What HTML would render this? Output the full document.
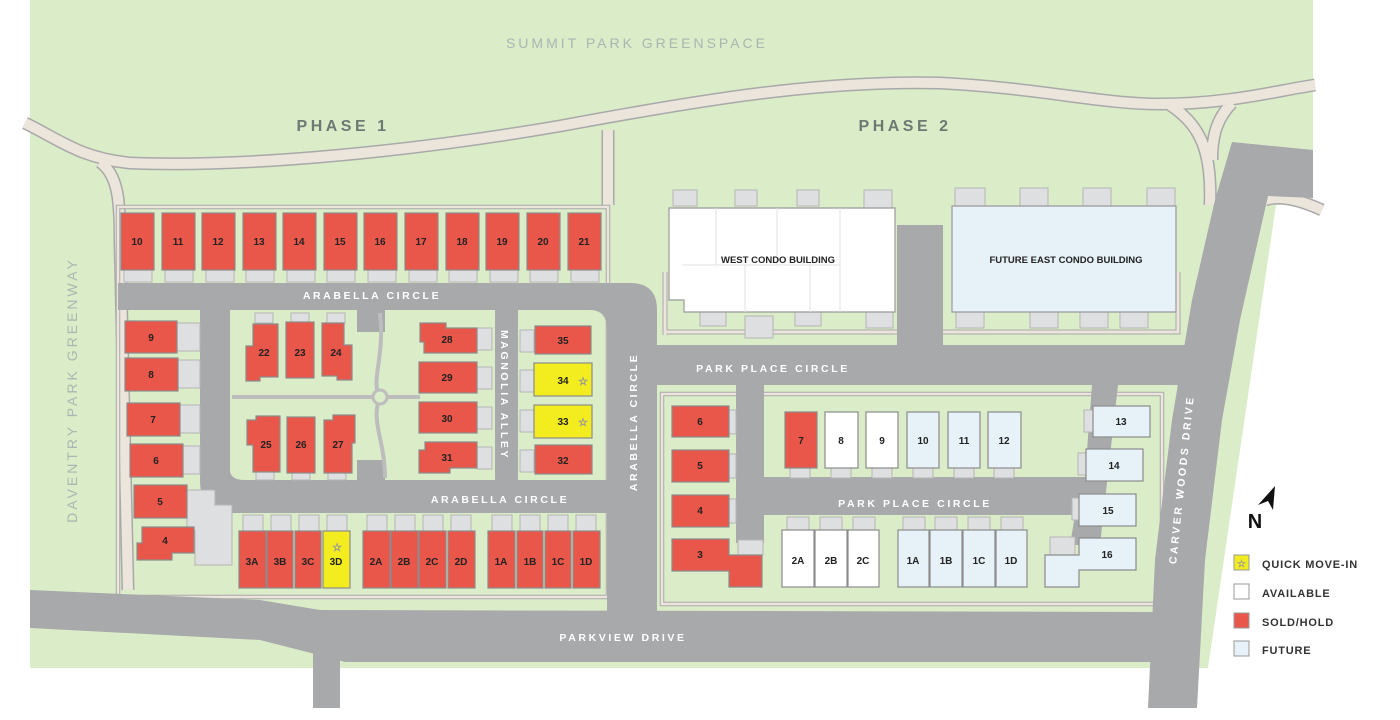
<!DOCTYPE html>
<html><head><meta charset="utf-8"><style>
html,body{margin:0;padding:0;background:#fff;}
svg{display:block;}
text{font-family:"Liberation Sans",sans-serif;font-weight:bold;}
.u{stroke:#8c8c8c;stroke-width:1.2;}
.r{fill:#e9574b;}.y{fill:#f3ec1f;}.w{fill:#fff;}.f{fill:#e6f1f8;}
.n{font-size:10px;fill:#222;text-anchor:middle;}
.d{fill:#dedfe0;stroke:#b5b5b5;stroke-width:1;}
.rd{fill:#a8a9ab;}
.sw{fill:none;stroke:#a9a9a9;stroke-width:13;stroke-linejoin:round;stroke-linecap:butt;}
.swi{fill:none;stroke:#ebe5dc;stroke-width:10;stroke-linejoin:round;}
.lab{font-size:10.5px;fill:#fff;letter-spacing:2.6px;text-anchor:middle;}
.lg{font-size:11px;fill:#333;letter-spacing:0.8px;}
</style></head><body>
<svg width="1400" height="720" viewBox="0 0 1400 720" xmlns="http://www.w3.org/2000/svg">
<rect width="1400" height="720" fill="#fff"/>
<polygon points="30,0 1313,0 1313,205 1276,205 1208,668 30,668" fill="#dbecc8"/>
<g>
<path d="M25,123 C60,140 80,158 130,163 C250,168 420,150 560,126 C700,100 820,80 940,83 C1040,88 1100,104 1160,104 C1230,104 1280,90 1315,85" class="sw"/>
<path d="M1170,105 C1200,125 1212,150 1210,205 M1232,103 C1215,120 1212,140 1212,160" class="sw"/>
<path d="M100,162 C118,175 120,200 120,240 L128,590" class="sw"/>
<path d="M608,130 L608,205" class="sw"/>
<path d="M1265,200 C1280,195 1300,200 1322,210" class="sw"/>
<path d="M25,123 C60,140 80,158 130,163 C250,168 420,150 560,126 C700,100 820,80 940,83 C1040,88 1100,104 1160,104 C1230,104 1280,90 1315,85" class="swi"/>
<path d="M1170,105 C1200,125 1212,150 1210,205 M1232,103 C1215,120 1212,140 1212,160" class="swi"/>
<path d="M100,162 C118,175 120,200 120,240 L128,590" class="swi"/>
<path d="M608,130 L608,205" class="swi"/>
<path d="M1265,200 C1280,195 1300,200 1322,210" class="swi"/>
<rect x="118" y="207" width="490" height="390" fill="none" stroke="#a9a9a9" stroke-width="4.5"/>
<rect x="118" y="207" width="490" height="390" fill="none" stroke="#ebe5dc" stroke-width="2.5"/>
<rect x="662" y="394" width="500" height="210" fill="none" stroke="#a9a9a9" stroke-width="4.5"/>
<rect x="662" y="394" width="500" height="210" fill="none" stroke="#ebe5dc" stroke-width="2.5"/>
<path d="M665,335 V272 M665,332 H905 M938,332 H1178 V272" fill="none" stroke="#a9a9a9" stroke-width="5"/>
<path d="M665,335 V272 M665,332 H905 M938,332 H1178 V272" fill="none" stroke="#ebe5dc" stroke-width="3"/>
</g>
<g class="rd">
<polygon points="30,590 260,600 320,610 1160,612 1160,662 345,662 315,654 260,640 30,628"/>
<rect x="313" y="650" width="27" height="58"/>
<polygon points="1232,142 1313,150 1313,198 1268,196 1240,320 1222,420 1205,560 1197,708 1148,708 1155,560 1172,420 1192,300 1215,200"/>
<path d="M118,283 H630 Q657,283 657,310 V612 H607 V330 Q607,310 590,310 H230 V470 Q230,480 245,480 H607 V513 H230 Q200,513 200,480 V310 H118 Z"/>
<rect x="495" y="310" width="23" height="172"/>
<rect x="357" y="310" width="28" height="22"/>
<rect x="357" y="460" width="28" height="22"/>
<rect x="655" y="345" width="545" height="40"/>
<rect x="897" y="225" width="46" height="125"/>
<rect x="736" y="383" width="28" height="160"/>
<polygon points="764,477 1085,477 1092,385 1118,385 1100,545 1070,545 1075,515 764,515"/>
</g>
<g fill="#dbecc8">
<rect x="232" y="313" width="125" height="165" rx="14"/>
<rect x="385" y="313" width="107" height="165" rx="14"/>
<rect x="520" y="313" width="85" height="165" rx="14"/>
</g>
<path d="M380,313 C385,360 370,380 380,398 C370,420 385,440 385,478" fill="none" stroke="#bdbdbd" stroke-width="4"/>
<line x1="232" y1="397" x2="420" y2="397" stroke="#bdbdbd" stroke-width="4"/>
<circle cx="380" cy="397" r="7" fill="#dbecc8" stroke="#bdbdbd" stroke-width="3"/>
<g class="d">
<rect x="124" y="270" width="28" height="12"/><rect x="165" y="270" width="28" height="12"/><rect x="206" y="270" width="28" height="12"/><rect x="246" y="270" width="28" height="12"/><rect x="287" y="270" width="28" height="12"/><rect x="327" y="270" width="28" height="12"/><rect x="368" y="270" width="28" height="12"/><rect x="409" y="270" width="28" height="12"/><rect x="449" y="270" width="28" height="12"/><rect x="490" y="270" width="28" height="12"/><rect x="530" y="270" width="28" height="12"/><rect x="571" y="270" width="28" height="12"/>
<rect x="177" y="323" width="23" height="28"/><rect x="178" y="360" width="22" height="28"/><rect x="180" y="405" width="20" height="28"/><rect x="183" y="446" width="17" height="28"/>
<polygon points="187,490 215,490 215,505 232,505 232,565 195,565 195,530 187,530"/>
<rect x="255" y="313" width="18" height="10"/><rect x="291" y="313" width="18" height="10"/><rect x="327" y="313" width="18" height="10"/>
<rect x="256" y="472" width="18" height="8"/><rect x="292" y="472" width="18" height="8"/><rect x="328" y="472" width="18" height="8"/>
<rect x="477" y="328" width="15" height="22"/><rect x="477" y="367" width="15" height="22"/><rect x="477" y="407" width="15" height="22"/><rect x="477" y="447" width="15" height="22"/>
<rect x="520" y="330" width="14" height="22"/><rect x="520" y="370" width="14" height="22"/><rect x="520" y="410" width="14" height="22"/><rect x="520" y="450" width="14" height="22"/>
<rect x="243" y="515" width="20" height="16"/><rect x="271" y="515" width="20" height="16"/><rect x="299" y="515" width="20" height="16"/><rect x="327" y="515" width="20" height="16"/>
<rect x="367" y="515" width="20" height="16"/><rect x="395" y="515" width="20" height="16"/><rect x="423" y="515" width="20" height="16"/><rect x="451" y="515" width="20" height="16"/>
<rect x="492" y="515" width="20" height="16"/><rect x="520" y="515" width="20" height="16"/><rect x="548" y="515" width="20" height="16"/><rect x="576" y="515" width="20" height="16"/>
<rect x="729" y="410" width="7" height="24"/><rect x="729" y="454" width="7" height="24"/><rect x="729" y="499" width="7" height="24"/><rect x="738" y="540" width="25" height="15"/>
<rect x="790" y="468" width="20" height="10"/><rect x="831" y="468" width="20" height="10"/><rect x="872" y="468" width="20" height="10"/><rect x="913" y="468" width="20" height="10"/><rect x="954" y="468" width="20" height="10"/><rect x="994" y="468" width="20" height="10"/>
<rect x="787" y="517" width="22" height="13"/><rect x="820" y="517" width="22" height="13"/><rect x="853" y="517" width="22" height="13"/><rect x="903" y="517" width="22" height="13"/><rect x="935" y="517" width="22" height="13"/><rect x="968" y="517" width="22" height="13"/><rect x="1001" y="517" width="22" height="13"/>
<rect x="1084" y="410" width="9" height="22"/><rect x="1078" y="453" width="8" height="22"/><rect x="1072" y="498" width="7" height="22"/><rect x="1050" y="537" width="25" height="18"/>
<rect x="673" y="190" width="24" height="16"/><rect x="735" y="190" width="22" height="16"/><rect x="797" y="190" width="22" height="16"/><rect x="864" y="190" width="28" height="24"/>
<rect x="955" y="188" width="30" height="26"/><rect x="1020" y="188" width="28" height="18"/><rect x="1083" y="188" width="28" height="18"/><rect x="1147" y="188" width="28" height="18"/>
<rect x="700" y="312" width="26" height="14"/><rect x="745" y="316" width="28" height="22"/><rect x="795" y="312" width="26" height="14"/><rect x="866" y="312" width="27" height="16"/>
<rect x="956" y="312" width="28" height="16"/><rect x="1030" y="312" width="28" height="16"/><rect x="1080" y="312" width="28" height="16"/><rect x="1120" y="312" width="28" height="16"/>
</g>
<path d="M669,208 H895 V312 H684 V300 H669 Z" fill="#fff" stroke="#9a9a9a" stroke-width="1.2"/>
<path d="M716,208 V265 M777,208 V265 M840,208 V312 M682,265 H840 M745,265 V312 M810,265 V312" stroke="#e2e2e2" stroke-width="1" fill="none"/>
<text x="778" y="263" class="n" style="font-size:9.5px">WEST CONDO BUILDING</text>
<path d="M952,206 H1176 V312 H952 Z" fill="#e6f1f8" stroke="#9a9a9a" stroke-width="1.2"/>
<text x="1066" y="263" class="n" style="font-size:9.5px">FUTURE EAST CONDO BUILDING</text>
<g class="u">
<rect class="r" x="121" y="213" width="33" height="57"/><rect class="r" x="162" y="213" width="33" height="57"/><rect class="r" x="202" y="213" width="33" height="57"/><rect class="r" x="243" y="213" width="33" height="57"/><rect class="r" x="283" y="213" width="33" height="57"/><rect class="r" x="324" y="213" width="33" height="57"/><rect class="r" x="364" y="213" width="33" height="57"/><rect class="r" x="405" y="213" width="33" height="57"/><rect class="r" x="446" y="213" width="33" height="57"/><rect class="r" x="486" y="213" width="33" height="57"/><rect class="r" x="527" y="213" width="33" height="57"/><rect class="r" x="568" y="213" width="33" height="57"/>
<rect class="r" x="125" y="321" width="52" height="32"/><rect class="r" x="125" y="358" width="53" height="33"/><rect class="r" x="127" y="403" width="53" height="33"/><rect class="r" x="130" y="444" width="53" height="33"/><rect class="r" x="134" y="485" width="53" height="33"/>
<polygon class="r" points="142,527 194,527 194,553 172,553 172,560 137,560 137,543 142,543"/>
<polygon class="r" points="253,324 278,324 278,377 260,377 260,381 246,381 246,346 253,346"/>
<rect class="r" x="286" y="322" width="28" height="56"/>
<polygon class="r" points="322,323 344,323 344,345 352,345 352,380 337,380 337,376 322,376"/>
<polygon class="r" points="256,416 280,416 280,472 253,472 253,445 247,445 247,420 256,420"/>
<rect class="r" x="287" y="417" width="28" height="56"/>
<polygon class="r" points="333,415 355,415 355,443 352,443 352,473 324,473 324,420 333,420"/>
<polygon class="r" points="420,323 446,323 446,328 477,328 477,353 424,353 424,342 420,342"/>
<rect class="r" x="419" y="362" width="58" height="31"/><rect class="r" x="419" y="402" width="58" height="31"/>
<polygon class="r" points="425,442 477,442 477,468 450,468 450,473 419,473 419,450 425,450"/>
<rect class="r" x="535" y="326" width="56" height="28"/><rect class="y" x="534" y="363" width="58" height="33"/><rect class="y" x="534" y="405" width="58" height="33"/><rect class="r" x="535" y="445" width="57" height="29"/>
<rect class="r" x="239" y="531" width="27" height="57"/><rect class="r" x="267" y="531" width="26" height="57"/><rect class="r" x="295" y="531" width="26" height="57"/><rect class="y" x="323" y="531" width="27" height="57"/>
<rect class="r" x="363" y="531" width="27" height="57"/><rect class="r" x="391" y="531" width="27" height="57"/><rect class="r" x="419" y="531" width="27" height="57"/><rect class="r" x="448" y="531" width="27" height="57"/>
<rect class="r" x="488" y="531" width="27" height="57"/><rect class="r" x="517" y="531" width="26" height="57"/><rect class="r" x="545" y="531" width="26" height="57"/><rect class="r" x="573" y="531" width="27" height="57"/>
<rect class="r" x="672" y="406" width="57" height="31"/><rect class="r" x="672" y="450" width="57" height="32"/><rect class="r" x="672" y="495" width="57" height="32"/>
<polygon class="r" points="672,539 729,539 729,555 762,555 762,587 729,587 729,571 672,571"/>
<rect class="r" x="785" y="412" width="32" height="56"/><rect class="w" x="825" y="412" width="33" height="56"/><rect class="w" x="866" y="412" width="32" height="56"/><rect class="f" x="907" y="412" width="32" height="56"/><rect class="f" x="948" y="412" width="32" height="56"/><rect class="f" x="988" y="412" width="33" height="56"/>
<rect class="w" x="782" y="530" width="32" height="57"/><rect class="w" x="815" y="530" width="32" height="57"/><rect class="w" x="848" y="530" width="31" height="57"/>
<rect class="f" x="898" y="530" width="31" height="57"/><rect class="f" x="930" y="530" width="32" height="57"/><rect class="f" x="963" y="530" width="32" height="57"/><rect class="f" x="996" y="530" width="31" height="57"/>
<rect class="f" x="1093" y="406" width="57" height="31"/><rect class="f" x="1086" y="449" width="57" height="32"/><rect class="f" x="1079" y="494" width="57" height="32"/>
<polygon class="f" points="1079,538 1136,538 1136,570 1079,570 1079,587 1045,587 1045,555 1079,555"/>
</g>
<g class="n">
<text x="137" y="245">10</text><text x="178" y="245">11</text><text x="218" y="245">12</text><text x="259" y="245">13</text><text x="299" y="245">14</text><text x="340" y="245">15</text><text x="380" y="245">16</text><text x="421" y="245">17</text><text x="462" y="245">18</text><text x="502" y="245">19</text><text x="543" y="245">20</text><text x="584" y="245">21</text>
<text x="151" y="341">9</text><text x="151" y="378">8</text><text x="153" y="423">7</text><text x="156" y="464">6</text><text x="160" y="505">5</text><text x="165" y="544">4</text>
<text x="264" y="356">22</text><text x="300" y="356">23</text><text x="336" y="356">24</text><text x="266" y="448">25</text><text x="301" y="448">26</text><text x="338" y="448">27</text>
<text x="447" y="343">28</text><text x="447" y="381">29</text><text x="447" y="422">30</text><text x="447" y="461">31</text>
<text x="563" y="344">35</text><text x="563" y="384">34</text><text x="563" y="425">33</text><text x="563" y="464">32</text>
<text x="252" y="565">3A</text><text x="280" y="565">3B</text><text x="308" y="565">3C</text><text x="336" y="565">3D</text>
<text x="376" y="565">2A</text><text x="404" y="565">2B</text><text x="432" y="565">2C</text><text x="461" y="565">2D</text>
<text x="501" y="565">1A</text><text x="530" y="565">1B</text><text x="558" y="565">1C</text><text x="586" y="565">1D</text>
<text x="700" y="425">6</text><text x="700" y="469">5</text><text x="700" y="514">4</text><text x="700" y="558">3</text>
<text x="801" y="444">7</text><text x="841" y="444">8</text><text x="882" y="444">9</text><text x="923" y="444">10</text><text x="964" y="444">11</text><text x="1004" y="444">12</text>
<text x="798" y="564">2A</text><text x="831" y="564">2B</text><text x="863" y="564">2C</text><text x="913" y="564">1A</text><text x="946" y="564">1B</text><text x="979" y="564">1C</text><text x="1011" y="564">1D</text>
<text x="1121" y="425">13</text><text x="1114" y="469">14</text><text x="1108" y="514">15</text><text x="1107" y="558">16</text>
</g>
<g fill="#fff" stroke="#999" stroke-width="0.6" font-size="11px" text-anchor="middle">
<text x="583" y="385" style="font-weight:normal">☆</text><text x="583" y="426" style="font-weight:normal">☆</text><text x="337" y="551" style="font-weight:normal">☆</text>
</g>
<text x="372" y="299" class="lab">ARABELLA CIRCLE</text>
<text x="500" y="503" class="lab">ARABELLA CIRCLE</text>
<text x="773" y="372" class="lab">PARK PLACE CIRCLE</text>
<text x="915" y="507" class="lab">PARK PLACE CIRCLE</text>
<text x="623" y="641" class="lab">PARKVIEW DRIVE</text>
<text class="lab" transform="translate(501,395) rotate(90)">MAGNOLIA ALLEY</text>
<text class="lab" transform="translate(637,422) rotate(-90)">ARABELLA CIRCLE</text>
<text class="lab" transform="translate(1185,480) rotate(-84)">CARVER WOODS DRIVE</text>
<text x="637" y="48" style="font-size:14px;fill:#a9b6b1;letter-spacing:3px;font-weight:normal" text-anchor="middle">SUMMIT PARK GREENSPACE</text>
<text x="343" y="131" style="font-size:16px;fill:#6d7a74;letter-spacing:3.5px" text-anchor="middle">PHASE 1</text>
<text x="905" y="131" style="font-size:16px;fill:#6d7a74;letter-spacing:3.5px" text-anchor="middle">PHASE 2</text>
<text transform="translate(77,390) rotate(-90)" style="font-size:14px;fill:#aab7b2;letter-spacing:3px;font-weight:normal" text-anchor="middle">DAVENTRY PARK GREENWAY</text>
<text x="1255" y="528" style="font-size:20px;fill:#111;font-weight:bold" text-anchor="middle">N</text>
<polygon points="1275,486 1273,510 1268,501 1258,505" fill="#111"/>
<rect x="1234" y="555" width="15" height="15" fill="#f3ec1f" stroke="#999"/>
<text x="1241.5" y="567" font-size="10px" fill="#fff" stroke="#999" stroke-width="0.5" text-anchor="middle" style="font-weight:normal">☆</text>
<rect x="1234" y="584" width="15" height="15" fill="#fff" stroke="#999"/>
<rect x="1234" y="613" width="15" height="15" fill="#e9574b" stroke="#999"/>
<rect x="1234" y="641" width="15" height="15" fill="#e6f1f8" stroke="#999"/>
<text x="1262" y="568" class="lg">QUICK MOVE-IN</text>
<text x="1262" y="597" class="lg">AVAILABLE</text>
<text x="1262" y="626" class="lg">SOLD/HOLD</text>
<text x="1262" y="654" class="lg">FUTURE</text>
</svg>
</body></html>
